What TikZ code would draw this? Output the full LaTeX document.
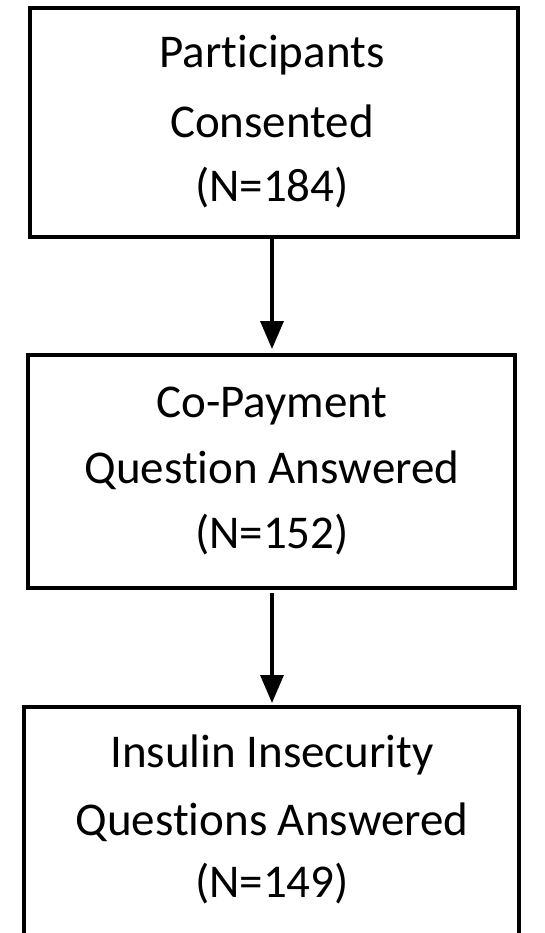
\documentclass[tikz,border=0pt]{standalone}
\usepackage{fontspec}
\setmainfont{Carlito}[Ligatures=NoCommon]
\usetikzlibrary{arrows.meta}
\tikzset{
  box/.style={draw=black, line width=3.5pt, rectangle, inner sep=0pt},
  txt/.style={anchor=base, inner sep=0pt, font=\fontsize{47}{56}\selectfont},
  conn/.style={draw=black, line width=3.5pt, -{Triangle[width=23pt,length=28pt]}}
}
\begin{document}
\begin{tikzpicture}[x=1pt,y=-1pt]
\clip (0,0) rectangle (544,933);
\fill[white] (0,0) rectangle (544,933);
% boxes
\node[box, minimum width=488pt, minimum height=229pt] (b1) at (274,122.5) {};
\node[box, minimum width=487pt, minimum height=233pt] (b2) at (271.5,471.5) {};
\node[box, minimum width=495pt, minimum height=260pt] (b3) at (271.5,837) {};
% texts
\node[txt] (t11) at (272,68) {Participants};
\node[txt] (t12) at (272,138) {Consented};
\node[txt] (t13) at (272,202) {(N=184)};
\node[txt] (t21) at (272,417) {Co-Payment};
\node[txt] (t22) at (272,483) {Question Answered};
\node[txt] (t23) at (272,548) {(N=152)};
\node[txt] (t31) at (272,767) {Insulin Insecurity};
\node[txt] (t32) at (272,835) {Questions Answered};
\node[txt] (t33) at (272,897) {(N=149)};
% connectors
\coordinate (a1s) at (272,237);
\coordinate (a1e) at (272,355);
\coordinate (a2s) at (272,593);
\coordinate (a2e) at (272,707);
\draw[conn, shorten >=6pt] (a1s) -- (a1e);
\draw[conn, shorten >=4pt] (a2s) -- (a2e);
\end{tikzpicture}
\end{document}
